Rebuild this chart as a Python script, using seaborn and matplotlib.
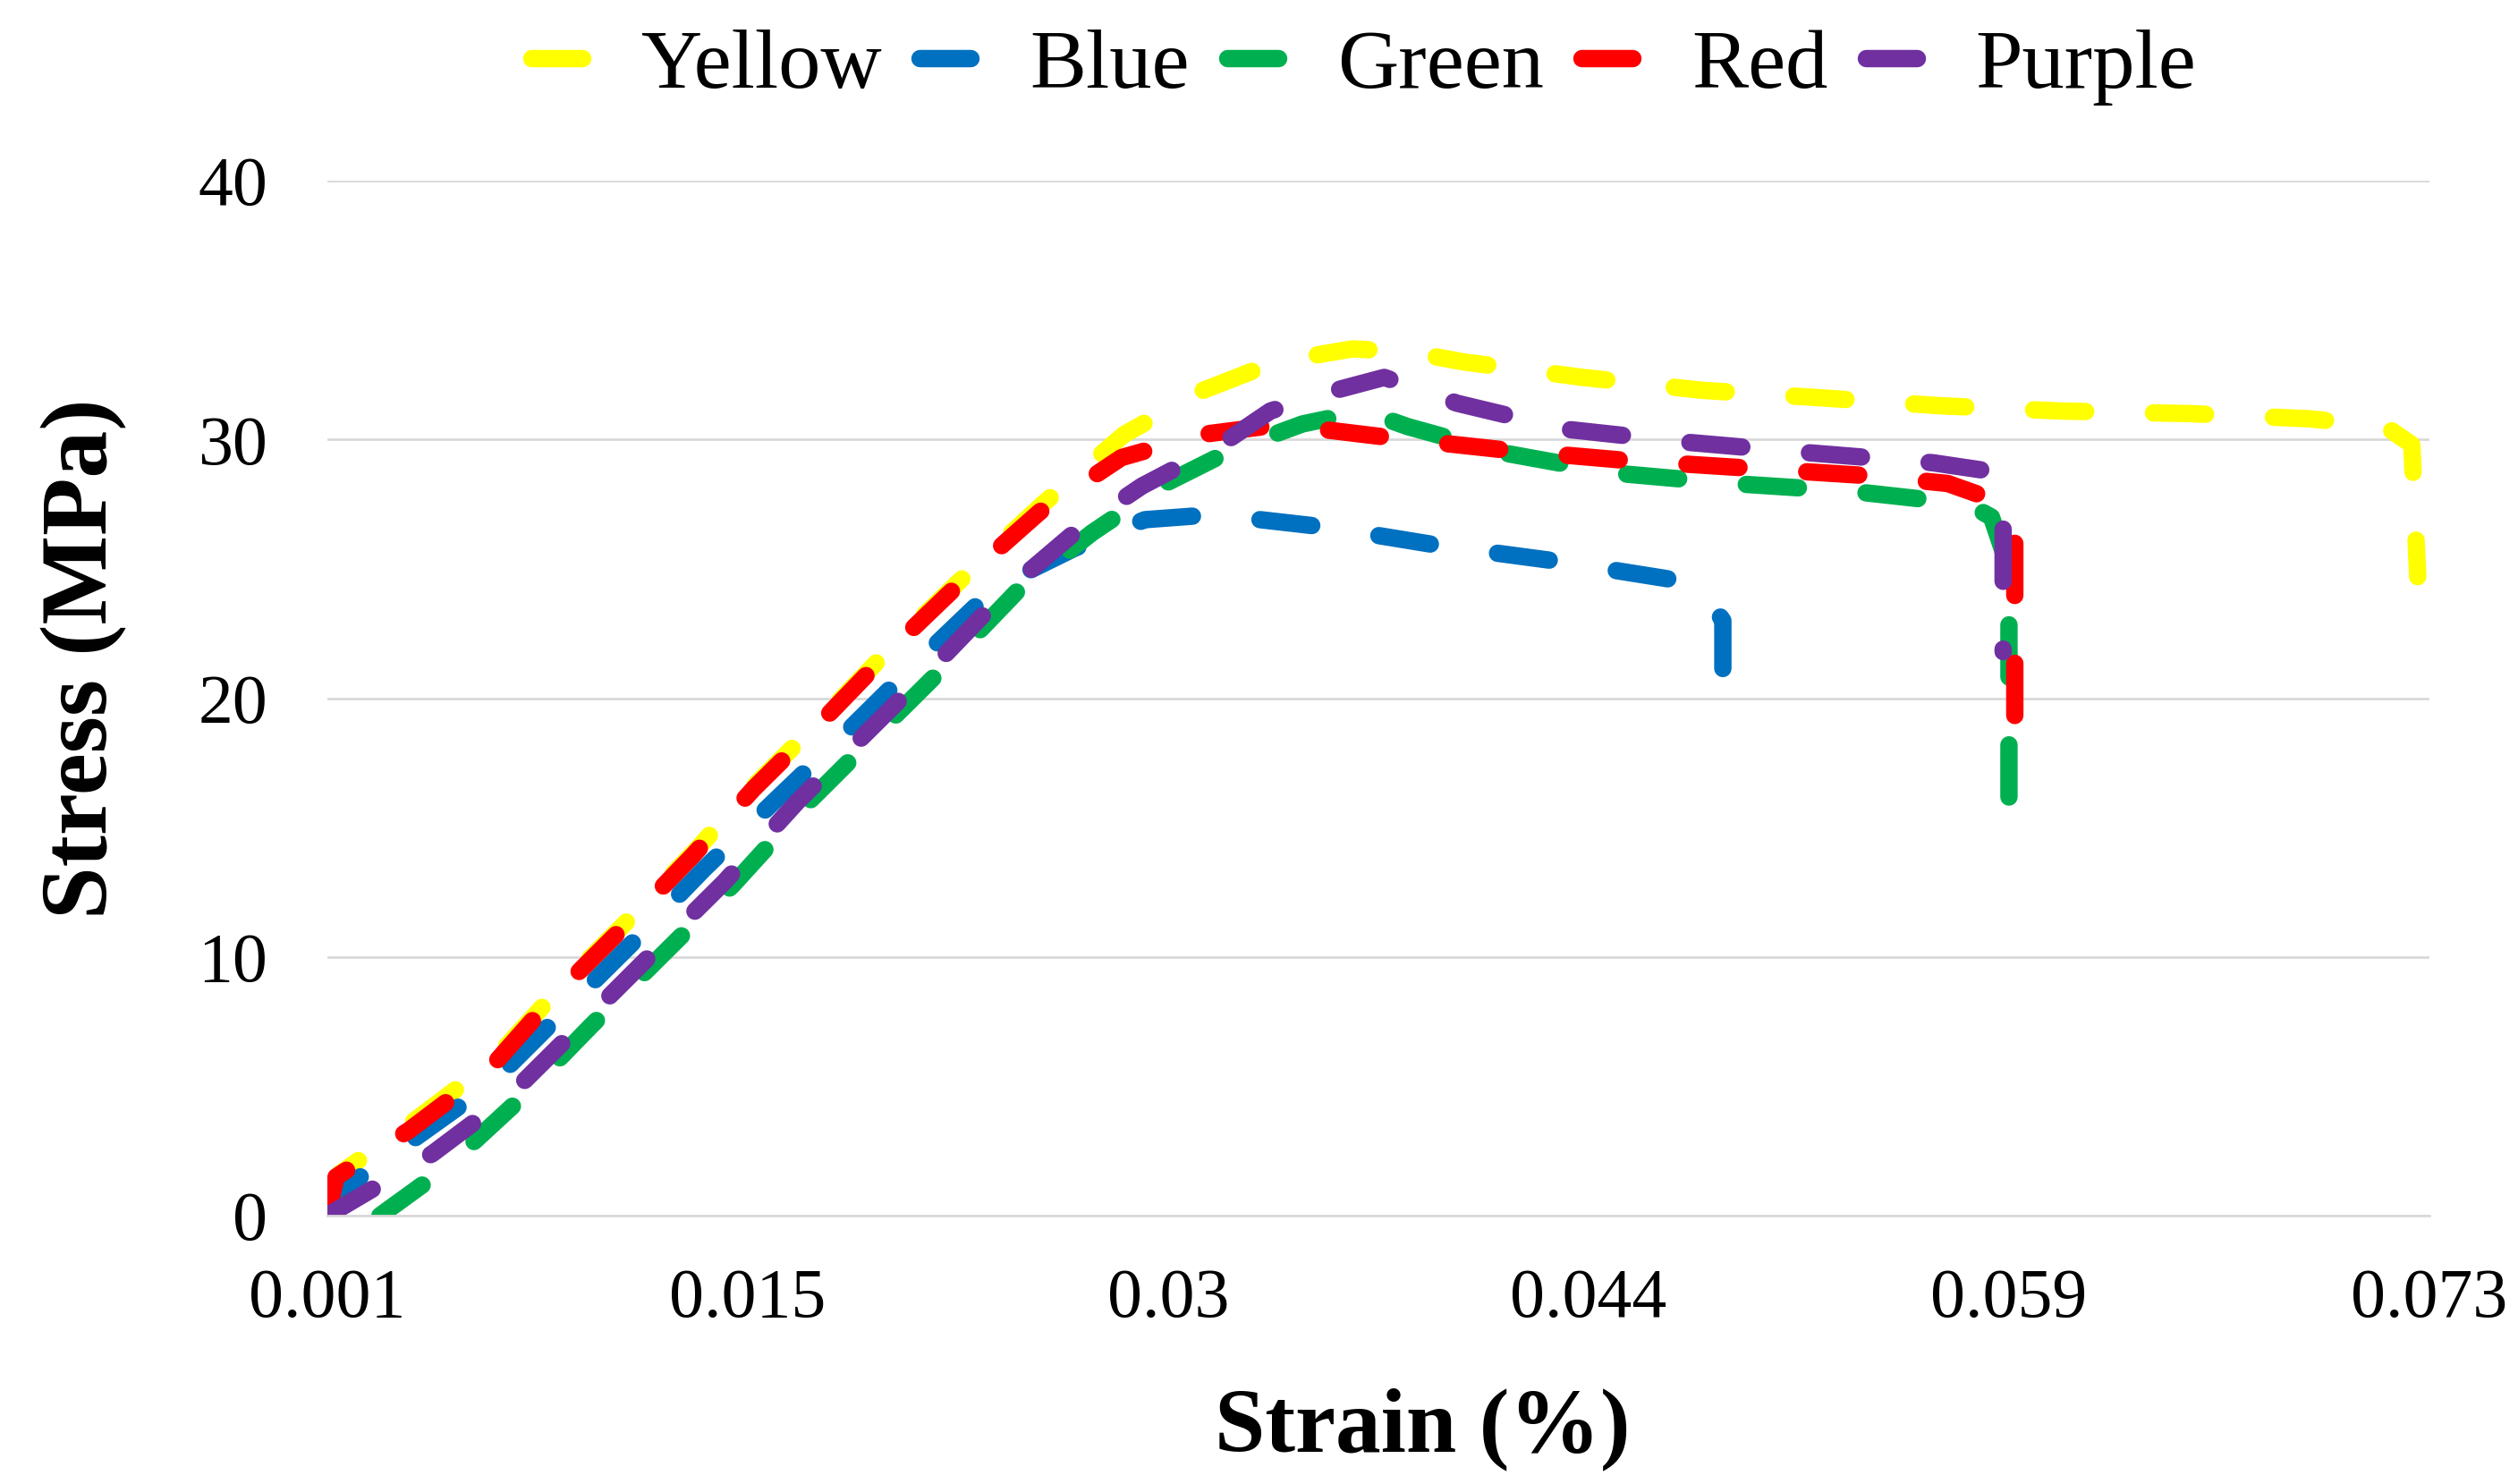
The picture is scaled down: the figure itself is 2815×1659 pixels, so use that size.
import numpy as np
import pandas as pd
import matplotlib
matplotlib.use("Agg")
import matplotlib.pyplot as plt
from matplotlib.lines import Line2D
import seaborn as sns

# ---- data (strain, stress) ----
yellow_x = [0.0010, 0.0014, 0.0039, 0.0066, 0.0088, 0.0112, 0.0136, 0.0157, 0.0182, 0.0206, 0.0230,
            0.0255, 0.0283, 0.0310, 0.0335, 0.0361, 0.0380, 0.0399, 0.0440, 0.0481, 0.0523, 0.0563,
            0.0604, 0.0648, 0.0689, 0.0715, 0.0724, 0.0726]
yellow_y = [0.6, 1.6, 3.6, 5.9, 8.6, 11.3, 14.1, 16.7, 19.5, 22.3, 24.9,
            27.5, 30.2, 31.9, 33.0, 33.5, 33.4, 33.0, 32.4, 31.9, 31.6, 31.3,
            31.1, 31.0, 30.8, 30.5, 29.8, 24.7]

blue_x = [0.0010, 0.0015, 0.0040, 0.0066, 0.0090, 0.0115, 0.0139, 0.0162, 0.0187, 0.0213, 0.0239,
          0.0266, 0.0290, 0.0314, 0.0353, 0.0391, 0.0431, 0.0470, 0.0482, 0.0488, 0.0488]
blue_y = [0.0, 1.0, 3.0, 5.1, 7.8, 10.6, 13.4, 15.9, 18.6, 21.5, 24.3,
          25.8, 26.9, 27.1, 26.6, 25.9, 25.3, 24.6, 24.0, 23.0, 19.8]

green_x = [0.0028, 0.0050, 0.0075, 0.0100, 0.0124, 0.0149, 0.0174, 0.0198, 0.0223, 0.0246, 0.0272,
           0.0297, 0.0320, 0.0344, 0.0365, 0.0380, 0.0412, 0.0451, 0.0491, 0.0532, 0.0572, 0.0580,
           0.0586, 0.0586]
green_y = [0.0, 1.8, 4.4, 7.3, 10.0, 12.8, 15.9, 18.6, 21.4, 24.1, 26.4,
           28.3, 29.6, 30.6, 31.1, 30.5, 29.5, 28.7, 28.3, 28.0, 27.5, 27.0,
           25.0, 13.9]

red_x = [0.0010, 0.0013, 0.0038, 0.0065, 0.0087, 0.0111, 0.0135, 0.0156, 0.0181, 0.0205, 0.0229,
         0.0254, 0.0282, 0.0310, 0.0331, 0.0350, 0.0372, 0.0413, 0.0454, 0.0496, 0.0538, 0.0565,
         0.0580, 0.0588, 0.0588]
red_y = [0.0, 1.5, 3.3, 5.6, 8.4, 11.1, 13.9, 16.5, 19.3, 22.1, 24.7,
         27.2, 29.3, 30.2, 30.5, 30.4, 30.1, 29.6, 29.2, 28.9, 28.6, 28.3,
         27.7, 26.5, 18.9]

purple_x = [0.0010, 0.0019, 0.0046, 0.0072, 0.0097, 0.0121, 0.0146, 0.0171, 0.0195, 0.0220, 0.0243,
            0.0268, 0.0289, 0.0316, 0.0333, 0.0352, 0.0372, 0.0397, 0.0434, 0.0475, 0.0516,
            0.0560, 0.0578, 0.0584, 0.0584]
purple_y = [0.0, 0.6, 2.4, 4.6, 7.4, 10.1, 12.9, 16.0, 18.7, 21.5, 24.2,
            26.6, 28.2, 29.8, 31.1, 31.8, 32.4, 31.4, 30.4, 29.9, 29.5,
            29.1, 28.8, 27.5, 21.8]

series_names = ["Yellow", "Blue", "Green", "Red", "Purple"]
series_colors = ["#FFFF00", "#0070C0", "#00B050", "#FF0000", "#7030A0"]
x_ticks = [0.001, 0.0154, 0.0298, 0.0442, 0.0586, 0.073]
x_tick_labels = ["0.001", "0.015", "0.03", "0.044", "0.059", "0.073"]
y_ticks = [0, 10, 20, 30, 40]

xs = [yellow_x, blue_x, green_x, red_x, purple_x]
ys = [yellow_y, blue_y, green_y, red_y, purple_y]

frames = []
for name, x, y in zip(series_names, xs, ys):
    frames.append(pd.DataFrame({"Strain": x, "Stress": y, "Series": name}))
df = pd.concat(frames, ignore_index=True)

# ---- styling ----
sns.set_theme(style="white")
plt.rcParams["font.family"] = ["Liberation Serif", "DejaVu Serif"]
plt.rcParams["text.color"] = "black"
plt.rcParams["axes.labelcolor"] = "black"
plt.rcParams["xtick.color"] = "black"
plt.rcParams["ytick.color"] = "black"

fig = plt.figure(figsize=(14.075, 8.295), dpi=200)
ax = fig.add_axes([0.130, 0.1808, 0.9648 - 0.130, 0.8782 - 0.1808])

palette = dict(zip(series_names, series_colors))
dash_map = {n: (3.0, 3.9) for n in series_names}
LW = 7.0

sns.lineplot(data=df, x="Strain", y="Stress", hue="Series", style="Series",
             hue_order=series_names, style_order=series_names,
             palette=palette, dashes=dash_map, sort=False, estimator=None,
             linewidth=LW, legend=False, ax=ax)
for ln in ax.lines:
    ln.set_dash_capstyle("round")
    ln.set_solid_capstyle("round")
    ln.set_dash_joinstyle("round")

ax.set_xlim(0.001, 0.073)
ax.set_ylim(0, 40)
ax.set_xticks(x_ticks)
ax.set_xticklabels(x_tick_labels)
ax.set_yticks(y_ticks)
ax.tick_params(axis="both", length=0, labelsize=28, colors="black")
ax.tick_params(axis="x", pad=21)
ax.tick_params(axis="y", pad=24)

ax.grid(axis="y", color="#D9D9D9", linewidth=1.0)
ax.grid(axis="x", visible=False)
for s in ["left", "right", "top"]:
    ax.spines[s].set_visible(False)
ax.spines["bottom"].set_color("#D9D9D9")
ax.spines["bottom"].set_linewidth(1.0)

ax.set_xlabel("Strain (%)", fontsize=36.5, fontweight="bold", color="black")
ax.set_ylabel("Stress (MPa)", fontsize=38, fontweight="bold", color="black")
ax.xaxis.label.set_va("center")
ax.yaxis.label.set_va("center")
ax.xaxis.set_label_coords(0.521, -0.206)
ax.yaxis.set_label_coords(-0.1157, 0.538)

handles = [Line2D([0], [0], color=c, lw=LW, solid_capstyle="round") for c in series_colors]
fig.legend(handles, series_names, loc="center", bbox_to_anchor=(0.5417, 0.955),
           ncol=5, frameon=False, fontsize=34, handlelength=0.6,
           handletextpad=0.7, columnspacing=0.45)

fig.savefig("out.png", dpi=200, facecolor="white")
